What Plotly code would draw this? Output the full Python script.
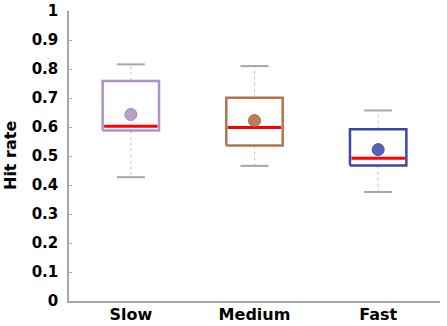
import plotly.graph_objects as go

categories = ["Slow", "Medium", "Fast"]
upper_whisker = [0.816, 0.810, 0.657]
q3 = [0.759, 0.701, 0.592]
median = [0.603, 0.598, 0.492]
q1 = [0.588, 0.536, 0.467]
lower_whisker = [0.427, 0.466, 0.376]
mean = [0.643, 0.622, 0.522]
y_ticks = [0, 0.1, 0.2, 0.3, 0.4, 0.5, 0.6, 0.7, 0.8, 0.9, 1]
y_tick_labels = ["0", "0.1", "0.2", "0.3", "0.4", "0.5", "0.6", "0.7", "0.8", "0.9", "1"]

box_colors = ["#ad95c3", "#b5734c", "#3b46a8"]
dot_colors = ["#b69fc8", "#c07d55", "#5863b6"]
dot_lines = ["#9f88b6", "#a46644", "#434da6"]

BOX_HALF = 0.228
CAP_HALF = 0.113
FONT = "DejaVu Sans, Verdana, sans-serif"

fig = go.Figure()
for i, cat in enumerate(categories):
    x = i
    # whiskers (dotted)
    fig.add_trace(go.Scatter(
        x=[x, x, None, x, x],
        y=[q3[i], upper_whisker[i], None, q1[i], lower_whisker[i]],
        mode="lines", line=dict(color="#c4c4c4", width=1, dash="dot"),
        hoverinfo="skip", showlegend=False))
    # caps
    fig.add_trace(go.Scatter(
        x=[x - CAP_HALF, x + CAP_HALF, None, x - CAP_HALF, x + CAP_HALF],
        y=[upper_whisker[i], upper_whisker[i], None, lower_whisker[i], lower_whisker[i]],
        mode="lines", line=dict(color="#a6a6a6", width=2),
        hoverinfo="skip", showlegend=False))
    # box
    fig.add_trace(go.Scatter(
        x=[x - BOX_HALF, x + BOX_HALF, x + BOX_HALF, x - BOX_HALF, x - BOX_HALF],
        y=[q1[i], q1[i], q3[i], q3[i], q1[i]],
        mode="lines", line=dict(color=box_colors[i], width=2.5),
        fill="toself", fillcolor="white",
        hoverinfo="skip", showlegend=False))
    # median
    fig.add_trace(go.Scatter(
        x=[x - BOX_HALF + 0.012, x + BOX_HALF - 0.012],
        y=[median[i], median[i]],
        mode="lines", line=dict(color="#ff0000", width=3),
        hoverinfo="skip", showlegend=False))
    # mean
    fig.add_trace(go.Scatter(
        x=[x], y=[mean[i]], mode="markers",
        marker=dict(size=12, color=dot_colors[i], line=dict(color=dot_lines[i], width=1)),
        hoverinfo="skip", showlegend=False))

# empty trace so the overlay axis (inside tick marks) is rendered
fig.add_trace(go.Scatter(x=[None], y=[None], yaxis="y2", hoverinfo="skip", showlegend=False))

fig.update_layout(
    width=447, height=326,
    margin=dict(l=69, r=7, t=11, b=25),
    paper_bgcolor="white", plot_bgcolor="white",
    font=dict(family=FONT, color="black"),
    yaxis2=dict(
        overlaying="y", side="left", range=[0, 1], tickmode="array", tickvals=y_ticks,
        showticklabels=False, showgrid=False, zeroline=False, showline=True,
        linecolor="#a6a6a6", linewidth=1.5,
        ticks="inside", ticklen=3, tickcolor="#a6a6a6", tickwidth=1,
    ),
    annotations=[dict(
        text="Hit rate", textangle=-90, xref="paper", yref="paper", x=0, y=0.5,
        xanchor="center", yanchor="middle", xshift=-59, showarrow=False,
        font=dict(size=16, family=FONT, weight="bold", color="black"),
    )],
)
fig.update_xaxes(
    range=[-0.5, 2.5], tickmode="array", tickvals=[0, 1, 2], ticktext=categories,
    showgrid=False, zeroline=False, showline=True, linecolor="#a6a6a6", linewidth=2,
    ticks="", tickfont=dict(size=16, family=FONT, weight="bold"), automargin=False,
    ticklabelstandoff=-2,
)
fig.update_yaxes(
    selector=dict(overlaying=None),
    range=[0, 1], tickmode="array", tickvals=y_ticks, ticktext=y_tick_labels,
    showgrid=False, zeroline=False, showline=True, linecolor="#a6a6a6", linewidth=1.5,
    ticks="outside", ticklen=6, tickcolor="rgba(0,0,0,0)", tickwidth=1,
    tickfont=dict(size=15, family=FONT, weight="bold"), automargin=False,
)
fig.write_html("out.html", config={"displayModeBar": False},
               post_script="document.body.style.margin='0';")
